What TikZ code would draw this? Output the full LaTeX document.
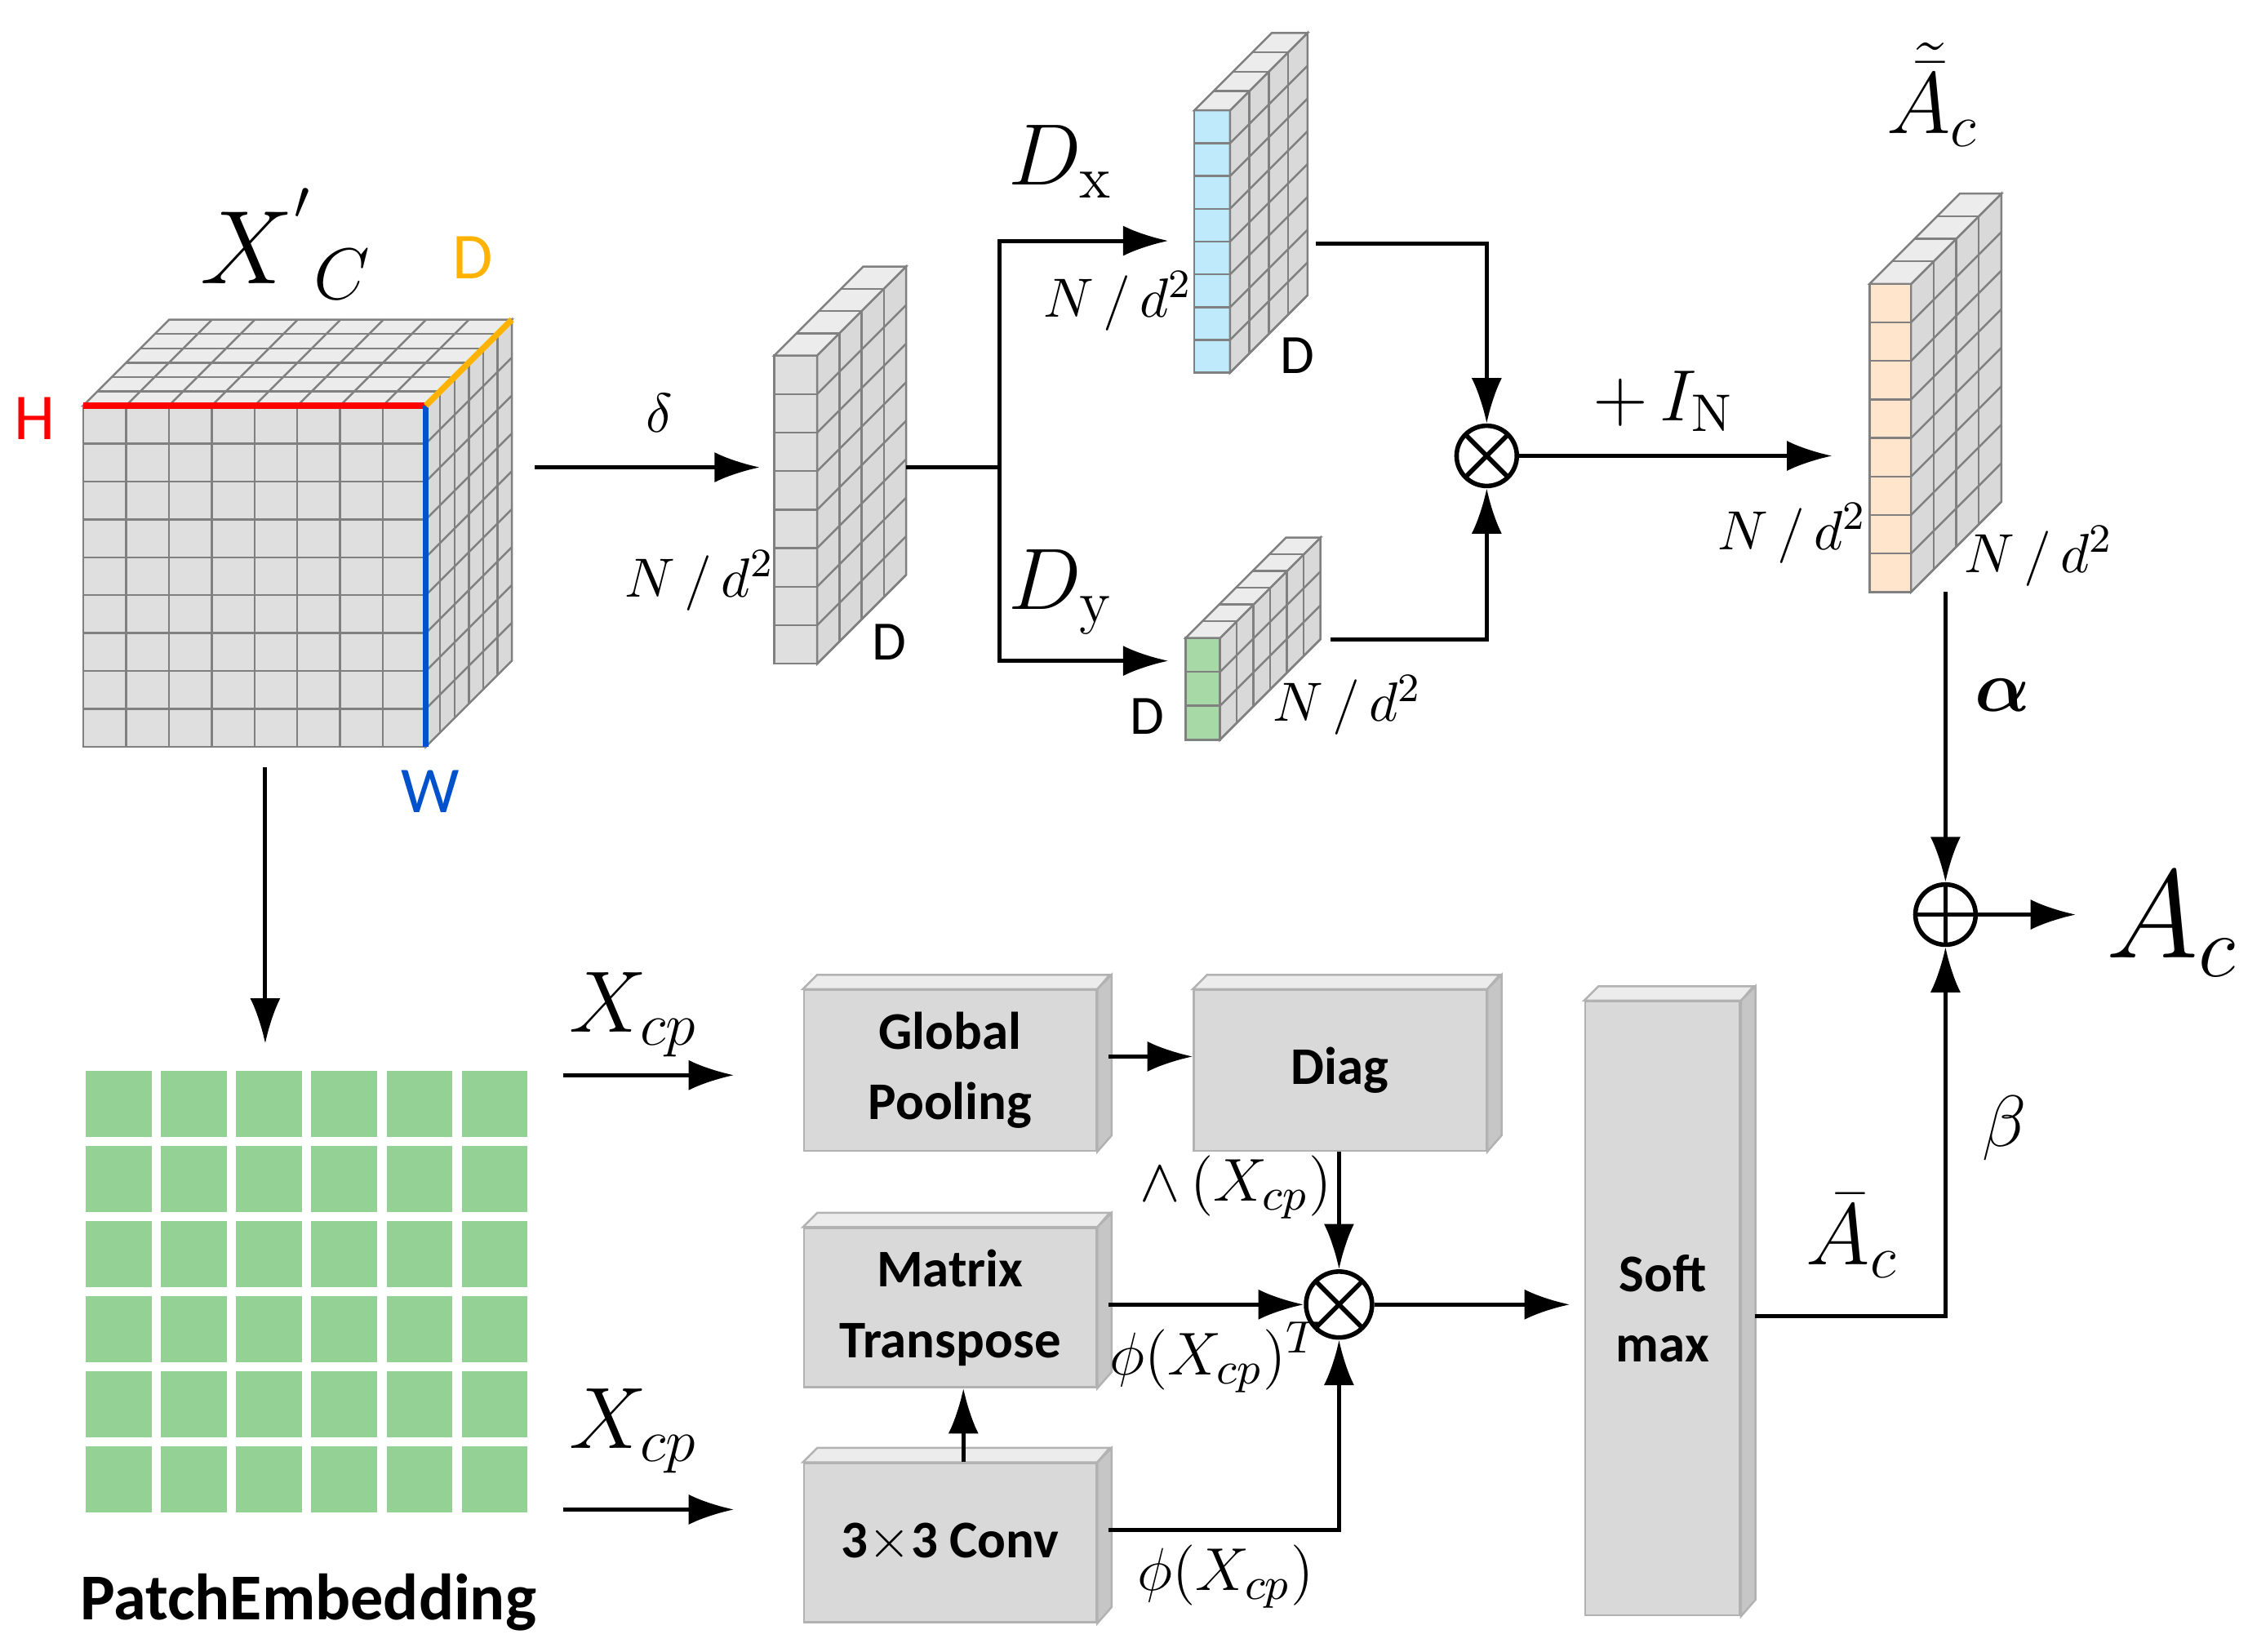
\documentclass[tikz,border=0pt]{standalone}
\usepackage{amsmath,amssymb}
\usepackage{fontspec}
\setsansfont{Carlito}
\usetikzlibrary{arrows.meta}
% slab: x, y (top left of front), w, h, rows, depth, layers, fill
\newcommand{\slab}[8]{%
  \foreach \i in {1,...,#5}{
    \pgfmathsetmacro{\ya}{#2+(\i-1)*#4/#5}
    \pgfmathsetmacro{\yb}{#2+\i*#4/#5}
    \draw[gray,fill=#8] (#1,\ya) rectangle (#1+#3,\yb);
  }
  \draw[gray,fill=gray!30] (#1+#3,#2) -- ++(#6,-#6) -- ++(0,#4) -- (#1+#3,#2+#4) -- cycle;
  \draw[gray,fill=gray!15] (#1,#2) -- ++(#6,-#6) -- ++(#3,0) -- (#1+#3,#2) -- cycle;
  \foreach \k in {1,...,#7}{
    \pgfmathsetmacro{\dd}{\k*#6/(#7+1)}
    \draw[gray] (#1+#3+\dd,#2-\dd) -- ++(0,#4);
    \draw[gray] (#1+\dd,#2-\dd) -- ++(#3,0);
  }
  \foreach \i in {1,...,#5}{
    \pgfmathsetmacro{\yb}{#2+\i*#4/#5}
    \draw[gray] (#1+#3,\yb) -- ++(#6,-#6);
  }
}
\tikzset{
  arr/.style={-{Latex[length=9pt,width=6pt]}, line width=0.8pt},
  ln/.style={line width=0.8pt},
  op/.style={circle, draw, line width=0.9pt, minimum size=0.42cm, inner sep=0pt},
  otimes/.style={op, path picture={
      \draw[line width=0.9pt] (path picture bounding box.north west) -- (path picture bounding box.south east)
        (path picture bounding box.north east) -- (path picture bounding box.south west);}},
  oplus/.style={op, path picture={
      \draw[line width=0.9pt] (path picture bounding box.north) -- (path picture bounding box.south)
        (path picture bounding box.east) -- (path picture bounding box.west);}},
  blkbox/.style={draw=gray!60, fill=gray!30, font=\sffamily\bfseries\fontsize{10.5}{14}\selectfont, align=center, inner sep=0pt},
  lab/.style={font=\fontsize{11}{13}\selectfont},
}
\newcommand{\blockbox}[5]{%
  \node[blkbox, minimum width=#3*0.01cm, minimum height=#4*0.01cm, anchor=north west] (#1) at #2 {#5};
  \draw[gray!60,fill=gray!15] (#1.north west) -- ++(10,-10) -- ++(#3,0) -- (#1.north east) -- cycle;
  \draw[gray!60,fill=gray!45] (#1.north east) -- ++(10,-10) -- ++(0,#4) -- (#1.south east) -- cycle;
}
\begin{document}
\begin{tikzpicture}[x=0.01cm, y=-0.01cm]
  \useasboundingbox (0,0) rectangle (1568,1152);
  % cube
  \foreach \c in {0,...,7}{
    \foreach \r in {0,...,8}{
      \draw[gray,fill=gray!25] (58+\c*29.875,283+\r*26.44) rectangle ++(29.875,26.44);
    }
  }
  \draw[gray,fill=gray!30] (297,283) -- (357,223) -- (357,461) -- (297,521) -- cycle;
  \draw[gray,fill=gray!15] (58,283) -- (118,223) -- (357,223) -- (297,283) -- cycle;
  \foreach \k in {1,...,5}{
    \draw[gray] (297+\k*10,283-\k*10) -- ++(0,238);
    \draw[gray] (58+\k*10,283-\k*10) -- ++(239,0);
  }
  \foreach \r in {1,...,8} \draw[gray] (297,283+\r*26.44) -- ++(60,-60);
  \foreach \c in {1,...,7} \draw[gray] (58+\c*29.875,283) -- ++(60,-60);
  \draw[red, line width=1.2pt] (58,283) -- (297,283);
  \draw[blue!60!cyan!80!black, line width=1.2pt] (297,283) -- (297,521);
  \draw[orange!60!yellow, line width=1.2pt] (297,283) -- (357,223);
  \node[font=\fontsize{22}{24}\selectfont] (xc) at (200,170) {$X^{'}{}_{C}$};
  \node[font=\sffamily\fontsize{13}{15}\selectfont, text=orange!60!yellow] (cD) at (330,180) {D};
  \node[font=\sffamily\fontsize{13}{15}\selectfont, text=red] (cH) at (24,292) {H};
  \node[font=\sffamily\fontsize{13}{15}\selectfont, text=blue!60!cyan!80!black] (cW) at (300,552) {W};
  \coordinate (cubeR) at (373,326);
  \coordinate (cubeB) at (185,535);
  % slabs
  \slab{540}{248}{30}{215}{8}{62}{3}{gray!25}
  \slab{833}{77}{25}{183}{8}{54}{3}{cyan!25}
  \slab{827}{445}{24}{71}{3}{70}{5}{green!40!gray!50}
  \slab{1304}{198}{29}{215}{8}{63}{3}{orange!20}
  \coordinate (s1L) at (530,326);
  \coordinate (s1R) at (632,326);
  \coordinate (br) at (697,326);
  \coordinate (dxL) at (815,168);
  \coordinate (dyL) at (815,461);
  \coordinate (dxR) at (918,170);
  \coordinate (dyR) at (928,446);
  \coordinate (acL) at (1278,318);
  \coordinate (acB) at (1357,413);
  \node[lab] (ld) at (460,288) {$\delta$};
  \node[lab] (l1) at (488,405) {$N\,/\,d^2$};
  \node[font=\sffamily\fontsize{11}{13}\selectfont] (l2) at (620,448) {D};
  \node[font=\fontsize{17}{19}\selectfont] (ldx) at (740,113) {$D_{\mathrm{x}}$};
  \node[font=\fontsize{17}{19}\selectfont] (ldy) at (740,413) {$D_{\mathrm{y}}$};
  \node[lab] (l3) at (780,210) {$N\,/\,d^2$};
  \node[font=\sffamily\fontsize{11}{13}\selectfont] (l4) at (905,248) {D};
  \node[font=\sffamily\fontsize{11}{13}\selectfont] (l5) at (800,500) {D};
  \node[lab] (l6) at (940,492) {$N\,/\,d^2$};
  \node[font=\fontsize{17}{19}\selectfont] (lat) at (1348,66) {$\tilde{\bar{A}}_{c}$};
  \node[lab] (l7) at (1250,372) {$N\,/\,d^2$};
  \node[lab] (l8) at (1422,388) {$N\,/\,d^2$};
  \node[font=\fontsize{15}{17}\selectfont] (lin) at (1160,280) {$+\,I_{\mathrm{N}}$};
  \node[otimes] (m1) at (1037,318) {};
  \node[oplus] (p1) at (1357,638) {};
  \node[font=\fontsize{27}{29}\selectfont] (ac) at (1515,645) {$A_c$};
  \node[font=\fontsize{14}{16}\selectfont] (la) at (1397,485) {$\boldsymbol{\alpha}$};
  \node[font=\fontsize{14}{16}\selectfont] (lb) at (1398,787) {$\beta$};
  \draw[arr] (cubeR) -- (s1L);
  \draw[ln] (s1R) -- (br);
  \draw[arr] (br) |- (dxL);
  \draw[arr] (br) |- (dyL);
  \draw[arr] (dxR) -| (m1.north);
  \draw[arr] (dyR) -| (m1.south);
  \draw[arr] (m1.east) -- (acL);
  \draw[arr] (acB) -- (p1.north);
  \draw[arr] (p1.east) -- (1448,638) coordinate (acin);
  % patch embedding
  \foreach \c in {0,...,5}{
    \foreach \r in {0,...,5}{
      \fill[green!40!gray!60] (60+\c*52.4,747+\r*52.4) rectangle ++(46,46);
    }
  }
  \coordinate (peT) at (185,728);
  \draw[arr] (cubeB) -- (peT);
  \node[font=\sffamily\bfseries\fontsize{13}{15}\selectfont] (pe) at (215,1118) {PatchEmbedding};
  \node[font=\fontsize{17}{19}\selectfont] (x1) at (442,708) {$X_{cp}$};
  \node[font=\fontsize{17}{19}\selectfont] (x2) at (442,998) {$X_{cp}$};
  \coordinate (x1e) at (512,750);
  \coordinate (x2e) at (512,1053);
  % blocks
  \blockbox{gp}{(560,690)}{204}{112}{Global\\Pooling}
  \blockbox{dg}{(832,690)}{204}{112}{Diag}
  \blockbox{mt}{(560,856)}{204}{111}{Matrix\\Transpose}
  \blockbox{cv}{(560,1020)}{204}{111}{3$\times$3 Conv}
  \blockbox{sm}{(1105,698)}{108}{428}{Soft\\max}
  \node[otimes, minimum size=0.46cm] (m2) at (934,910) {};
  \draw[arr] (393,750) -- (x1e);
  \draw[arr] (393,1053) -- (x2e);
  \draw[arr] (773,737) -- (dg.west |- 0,737);
  \draw[arr] (dg.south -| m2) -- (m2.north);
  \draw[arr] (773,910) -- (m2.west);
  \draw[arr] (cv.north -| 672,0) -- (mt.south -| 672,0);
  \draw[arr] (773,1067) -| (m2.south);
  \draw[arr] (m2.east) -- (1095,910);
  \draw[arr] (1224,918) -| (p1.south);
  \node[font=\fontsize{13}{15}\selectfont] (lw) at (862,828) {$\wedge\,(X_{cp})$};
  \node[font=\fontsize{13}{15}\selectfont] (lpt) at (848,947) {$\phi(X_{cp})^T$};
  \node[font=\fontsize{13}{15}\selectfont] (lp) at (855,1100) {$\phi(X_{cp})$};
  \node[font=\fontsize{17}{19}\selectfont] (lab) at (1292,862) {$\bar{A}_c$};
\end{tikzpicture}
\end{document}
